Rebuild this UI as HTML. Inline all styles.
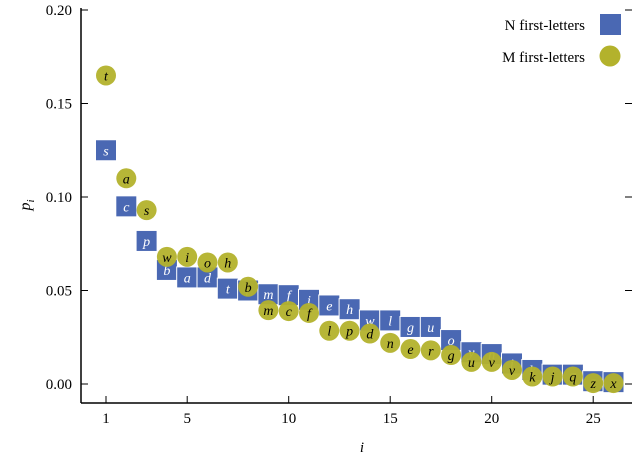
<!DOCTYPE html>
<html><head><meta charset="utf-8"><style>
body{margin:0;background:#fff}
svg{display:block;font-family:"Liberation Serif",serif}
</style></head><body>
<svg id="chart" width="640" height="455">
<g id="axes"></g>
<g id="marks"></g>
<g>
<text x="585" y="30" text-anchor="end" font-size="15">N first-letters</text>
<rect x="600" y="14" width="21" height="21" fill="#4a68b3"/>
<text x="585" y="62" text-anchor="end" font-size="15">M first-letters</text>
<circle cx="610" cy="56" r="10.5" fill="#b3b22c"/>
</g>
<text x="362" y="452" font-size="15" font-style="italic" text-anchor="middle">i</text>
<text transform="translate(30,205) rotate(-90)" font-size="16" font-style="italic" text-anchor="middle">p<tspan font-size="11" dy="4">i</tspan></text>
</svg>
<script>
const nLetters=["s","c","p","b","a","d","t","r","m","f","i","e","h","w","l","g","u","o","y","n","i","k","j","q","z","x"];
const nValues=[0.125,0.095,0.0765,0.061,0.057,0.057,0.051,0.050,0.048,0.0475,0.045,0.042,0.040,0.034,0.034,0.0305,0.0305,0.0235,0.017,0.016,0.011,0.0075,0.005,0.005,0.0015,0.001];
const mLetters=["t","a","s","w","i","o","h","b","m","c","f","l","p","d","n","e","r","g","u","v","v","k","j","q","z","x"];
const mValues=[0.165,0.110,0.093,0.068,0.068,0.065,0.065,0.052,0.0395,0.039,0.038,0.0285,0.0285,0.027,0.022,0.0187,0.018,0.0155,0.0118,0.0118,0.0075,0.004,0.004,0.004,0.0005,0.0005];
const xTicks=[1,5,10,15,20,25];
const yTicks=[0,0.05,0.10,0.15,0.20];
const yTickLabels=["0.00","0.05","0.10","0.15","0.20"];
const NS="http://www.w3.org/2000/svg";
const xs=i=>106+(i-1)*20.3;
const ys=v=>384-v*1870;
function mk(t,a,p){const e=document.createElementNS(NS,t);for(const k in a)e.setAttribute(k,a[k]);p.appendChild(e);return e;}
const ax=document.getElementById('axes'),mg=document.getElementById('marks');
let l=mk('line',{x1:81,y1:8,x2:81,y2:403,stroke:'#000','stroke-width':1.5},ax);


l=mk('line',{x1:81,y1:403,x2:632,y2:403,stroke:'#000','stroke-width':1.5},ax);


xTicks.forEach(t=>{
 const tk=mk('line',{x1:xs(t),y1:403,x2:xs(t),y2:396,stroke:'#000'},ax);
 
 
 const tx=mk('text',{x:xs(t),y:423,'font-size':15,'text-anchor':'middle'},ax);tx.textContent=t;
 
 
});
yTicks.forEach((t,k)=>{
 const tk=mk('line',{x1:81,y1:ys(t),x2:88,y2:ys(t),stroke:'#000'},ax);
 
 
 const tr=mk('line',{x1:632,y1:ys(t),x2:625,y2:ys(t),stroke:'#000'},ax);
 
 
 const tx=mk('text',{x:72,y:ys(t)+5,'font-size':15,'text-anchor':'end'},ax);tx.textContent=yTickLabels[k];
 
 
});
nValues.forEach((v,k)=>{
 const x=xs(k+1),y=ys(v);
 const r=mk('rect',{x:x-10.5,y:y-10.5,width:21,height:21,fill:'#4a68b3',stroke:'#fff','stroke-width':1},mg);
 
 
 const t=mk('text',{x:x,y:y+5,'font-size':14,'font-style':'italic','text-anchor':'middle',fill:'#fff'},mg);t.textContent=nLetters[k];
 
 
});
mValues.forEach((v,k)=>{
 const x=xs(k+1),y=ys(v);
 const c=mk('circle',{cx:x,cy:y,r:10,fill:'#b3b22c','fill-opacity':0.95},mg);
 
 
 const t=mk('text',{x:x,y:y+5,'font-size':14,'font-style':'italic','text-anchor':'middle',fill:'#000'},mg);t.textContent=mLetters[k];
 
 
});
</script>
</body></html>
